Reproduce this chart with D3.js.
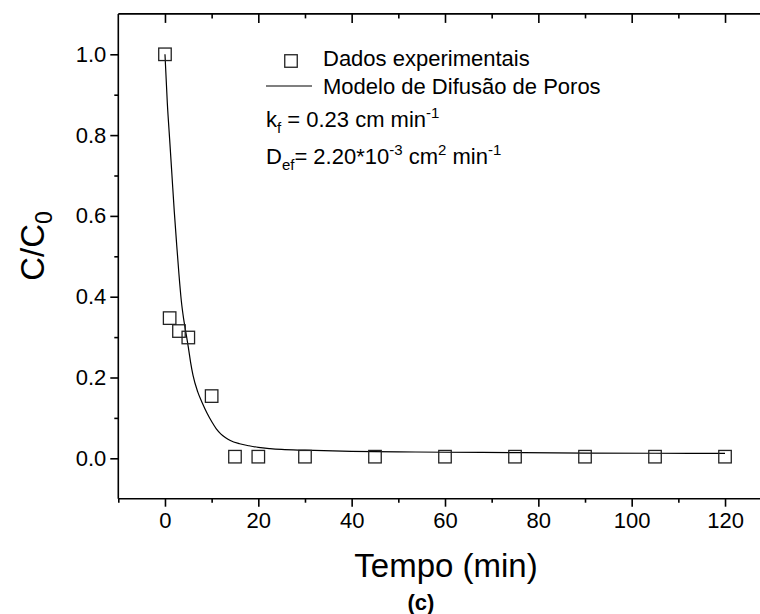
<!DOCTYPE html>
<html><head><meta charset="utf-8">
<script src="https://cdn.jsdelivr.net/npm/d3@7"></script>
<style>
html,body{margin:0;padding:0;background:#fff;}
svg{display:block;font-family:"Liberation Sans",Arial,Helvetica,sans-serif;}
text,tspan{fill:#000;}
</style></head>
<body><svg id="chart" width="760" height="614"></svg>
<script>
// Data
const timeMin = [0, 1, 3, 5, 10, 15, 20, 30, 45, 60, 75, 90, 105, 120];
const cOverC0 = [1.0, 0.347, 0.315, 0.299, 0.154, 0.004, 0.004, 0.004, 0.004, 0.004, 0.004, 0.004, 0.004, 0.004];
const modelTime = [0, 0.5, 1, 1.5, 2, 2.5, 3, 3.5, 4, 4.5, 5, 5.5, 6, 7, 8, 9, 10, 11, 12, 13, 14, 16, 18, 20, 22.5, 25, 30, 40, 50, 60, 75, 90, 105, 120];
const modelC = [1.0, 0.88, 0.79, 0.70, 0.61, 0.53, 0.455, 0.39, 0.345, 0.31, 0.275, 0.237, 0.206, 0.165, 0.137, 0.112, 0.091, 0.073, 0.060, 0.051, 0.044, 0.036, 0.031, 0.027, 0.024, 0.022, 0.020, 0.017, 0.016, 0.015, 0.014, 0.013, 0.0125, 0.012];
const xMajorTicks = [0, 20, 40, 60, 80, 100, 120];
const xMinorTicks = [-10, 10, 30, 50, 70, 90, 110];
const yMajorTicks = [0.0, 0.2, 0.4, 0.6, 0.8, 1.0];
const yMinorTicks = [0.1, 0.3, 0.5, 0.7, 0.9];
const legendLabels = ["Dados experimentais", "Modelo de Difusão de Poros"];

const svg = d3.select("#chart");
const x = d3.scaleLinear().domain([-10, 130]).range([118.3, 771.7]);
const y = d3.scaleLinear().domain([-0.1, 1.1]).range([498.7, 13.9]);
const x0 = x(-10), x1 = 760, y0 = y(-0.1), y1 = y(1.1);

function styleAxis(g){
  g.selectAll(".domain").remove();
  g.selectAll("line").attr("stroke","#000").attr("stroke-width",1.6);
  g.selectAll("text").attr("fill","#000").attr("font-size","22px")
    .attr("font-family",'"Liberation Sans",Arial,sans-serif');
}
// bottom axis
svg.append("g").attr("transform",`translate(0,${y0})`)
  .call(d3.axisBottom(x).tickValues(xMajorTicks).tickSize(8).tickPadding(6).tickFormat(d3.format("d")))
  .call(styleAxis);
svg.append("g").attr("transform",`translate(0,${y0})`)
  .call(d3.axisBottom(x).tickValues(xMinorTicks).tickSize(4).tickFormat(""))
  .call(styleAxis);
// top axis (inward ticks)
svg.append("g").attr("transform",`translate(0,${y1})`)
  .call(d3.axisBottom(x).tickValues(xMajorTicks).tickSize(9).tickFormat(""))
  .call(styleAxis);
svg.append("g").attr("transform",`translate(0,${y1})`)
  .call(d3.axisBottom(x).tickValues(xMinorTicks.filter(d=>d>-10)).tickSize(4.5).tickFormat(""))
  .call(styleAxis);
// left axis
svg.append("g").attr("transform",`translate(${x0},0)`)
  .call(d3.axisLeft(y).tickValues(yMajorTicks).tickSize(8).tickPadding(4).tickFormat(d3.format(".1f")))
  .call(styleAxis);
svg.append("g").attr("transform",`translate(${x0},0)`)
  .call(d3.axisLeft(y).tickValues(yMinorTicks).tickSize(4).tickFormat(""))
  .call(styleAxis);
// frame lines
const frame = svg.append("g").attr("stroke","#000").attr("stroke-width",1.6);
frame.append("line").attr("x1",x0).attr("x2",x1+5).attr("y1",y0).attr("y2",y0);
frame.append("line").attr("x1",x0).attr("x2",x1+5).attr("y1",y1).attr("y2",y1);
frame.append("line").attr("x1",x0).attr("x2",x0).attr("y1",y1).attr("y2",y0);
frame.append("line").attr("x1",x(130)).attr("x2",x(130)).attr("y1",y1).attr("y2",y0);

// model curve
const line = d3.line().x((d,i)=>x(modelTime[i])).y(d=>y(d)).curve(d3.curveMonotoneX);
svg.append("path").datum(modelC).attr("d",line).attr("fill","none")
  .attr("stroke","#000").attr("stroke-width",1.2);

// points
const s = 12.5;
svg.append("g").selectAll("rect").data(cOverC0).join("rect")
  .attr("x",(d,i)=>x(timeMin[i])-s/2).attr("y",d=>y(d)-s/2)
  .attr("width",s).attr("height",s).attr("fill","none")
  .attr("stroke","#222").attr("stroke-width",1.3);

// legend
const lg = svg.append("g").attr("font-size","22px").attr("fill","#000");
lg.append("rect").attr("x",291-s/2).attr("y",61-s/2).attr("width",s).attr("height",s)
  .attr("fill","none").attr("stroke","#222").attr("stroke-width",1.3);
lg.append("text").attr("x",323).attr("y",66).text(legendLabels[0]);
lg.append("line").attr("x1",266).attr("x2",312).attr("y1",86).attr("y2",86)
  .attr("stroke","#000").attr("stroke-width",1.2);
lg.append("text").attr("x",323).attr("y",94).text(legendLabels[1]);

const t1 = lg.append("text").attr("x",266).attr("y",127);
t1.append("tspan").text("k");
t1.append("tspan").attr("font-size","15px").attr("dy",6).text("f");
t1.append("tspan").attr("dy",-6).text(" = 0.23 cm min");
t1.append("tspan").attr("font-size","15px").attr("dy",-9).text("-1");

const t2 = lg.append("text").attr("x",266).attr("y",164);
t2.append("tspan").text("D");
t2.append("tspan").attr("font-size","15px").attr("dy",6).text("ef");
t2.append("tspan").attr("dy",-6).text("= 2.20*10");
t2.append("tspan").attr("font-size","15px").attr("dy",-9).text("-3");
t2.append("tspan").attr("dy",9).text(" cm");
t2.append("tspan").attr("font-size","15px").attr("dy",-9).text("2");
t2.append("tspan").attr("dy",9).text(" min");
t2.append("tspan").attr("font-size","15px").attr("dy",-9).text("-1");

// axis titles
svg.append("text").attr("x",446).attr("y",577).attr("text-anchor","middle")
  .attr("font-size","33px").text("Tempo (min)");
const yt = svg.append("text").attr("transform","translate(44,246) rotate(-90)")
  .attr("text-anchor","middle").attr("font-size","33px");
yt.append("tspan").text("C/C");
yt.append("tspan").attr("font-size","23px").attr("dy",8).text("0");

svg.append("text").attr("x",421).attr("y",610).attr("text-anchor","middle")
  .attr("font-size","22px").attr("font-weight","bold").text("(c)");
</script></body></html>
